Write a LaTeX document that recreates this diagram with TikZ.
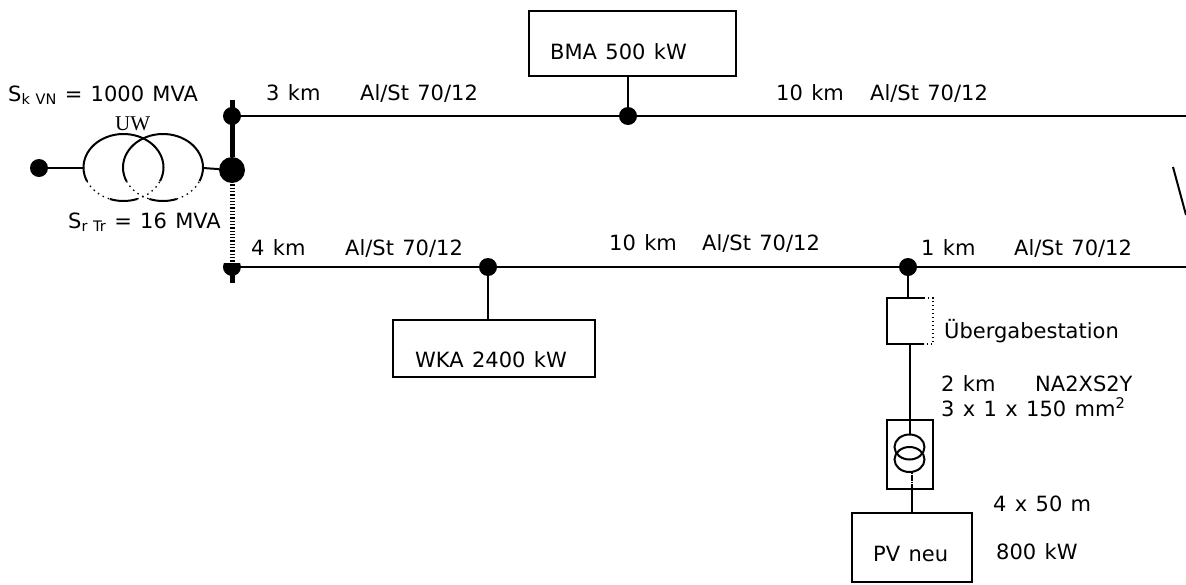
\documentclass[tikz,border=0pt]{standalone}
\usepackage{fontspec}
\setmainfont[WordSpace=1.25]{DejaVu Sans}
\newfontfamily\uwfont{Liberation Serif}
\newcommand{\lowtxt}[1]{\raisebox{-3pt}{\fontsize{14.5}{17}\selectfont #1}}
\tikzset{
    wire/.style={line width=2pt},
    bar/.style={line width=5pt},
    sparse/.style={line width=1.3pt, dash pattern=on 1.5pt off 4pt},
    dot/.style={circle, fill, inner sep=0pt, outer sep=0pt, minimum size=18pt},
    bigdot/.style={dot, minimum size=26pt},
    box/.style={draw, line width=2pt, inner sep=0pt, outer sep=0pt},
    lbl/.style={anchor=base west, inner sep=0pt, font=\fontsize{21}{24}\selectfont}
}
\begin{document}
\begin{tikzpicture}[x=1pt, y=1pt]
    \useasboundingbox (0, 0) rectangle (1186, -584);

    \node (dotFeed) [dot] at (39, -168) {};
    \node (dotTop) [dot] at (232, -116) {};
    \node (dotBar) [bigdot] at (232, -170) {};
    \node (dotBma) [dot] at (628, -116) {};
    \node (dotWka) [dot] at (488, -267) {};
    \node (dotPv) [dot] at (908, -267) {};
    \coordinate (barTop) at (232, -100);
    \coordinate (barGap) at (232, -181);
    \coordinate (busLow) at (232, -267);
    \coordinate (barEnd) at (232, -283);
    \coordinate (endTop) at (1186, -116);
    \coordinate (endLow) at (1186, -267);
    \coordinate (feedIn) at (84, -168);
    \coordinate (feedOut) at (203, -168);

    \node (boxBma) [box, minimum width=207pt, minimum height=65pt] at (632.5, -43.5) {};
    \node (boxWka) [box, minimum width=202pt, minimum height=57pt] at (494, -348.5) {};
    \node (boxPv) [box, minimum width=120pt, minimum height=69pt] at (912, -547.5) {};
    \node (boxTr) [box, minimum width=46pt, minimum height=69pt] at (910, -454.5) {};

    \draw [bar] (barTop) -- (dotBar);
    \draw [bar, dash pattern=on 1.3pt off 2pt] (barGap) -- (busLow);
    \draw [bar] (busLow) -- (barEnd);
    \fill (223.9, -263) arc [start angle=154, end angle=386, radius=9] -- cycle;

    \draw [wire] (dotFeed) -- (feedIn);
    \draw [wire] (feedOut) -- (dotBar);
    \draw [wire] (dotTop) -- (endTop);
    \draw [wire] (busLow) -- (endLow);
    \draw [wire] (dotBma) -- (dotBma |- boxBma.south);
    \draw [wire] (dotWka) -- (dotWka |- boxWka.north);

    \foreach \cx in {123.5, 163} {
        \begin{scope}[shift={(\cx, -167.5)}]
            \draw [wire] (204:40 and 33.5) arc [start angle=204, end angle=-24, x radius=40, y radius=33.5];
            \draw [wire] (250:40 and 33.5) arc [start angle=250, end angle=290, x radius=40, y radius=33.5];
            \draw [sparse] (204:40 and 33.5) arc [start angle=204, end angle=250, x radius=40, y radius=33.5];
            \draw [sparse] (290:40 and 33.5) arc [start angle=290, end angle=336, x radius=40, y radius=33.5];
        \end{scope}
    }

    \coordinate (ueTop) at (908, -298);
    \coordinate (ueLow) at (910, -344);
    \coordinate (trIn) at (910, -435);
    \coordinate (trGap) at (912, -472);
    \coordinate (trOut) at (912, -489);
    \draw [wire] (924, -298) -- (887, -298) -- (887, -344) -- (924, -344);
    \draw [sparse, dash pattern=on 1.3pt off 2.7pt] (924, -298) -- (933, -298) -- (933, -344) -- (924, -344);
    \draw [wire] (dotPv) -- (ueTop);
    \draw [wire] (ueLow) -- (trIn);
    \draw [wire] (909.5, -447) circle [x radius=15, y radius=12.5];
    \draw [wire] (909.5, -459.5) circle [x radius=15, y radius=12.5];
    \draw [sparse, dash pattern=on 1.5pt off 1pt on 6pt off 1pt] (trGap) -- (trOut);
    \draw [wire] (trOut) -- (boxPv.north -| trOut);
    \draw [wire] (1173, -167) -- (1186, -215);

    \node (txtBma) [lbl] at (550, -59) {BMA 500 kW};
    \node (txtWka) [lbl] at (415, -367) {WKA 2400 kW};
    \node (txtPv) [lbl] at (873, -561) {PV neu};
    \node (txtUw) [lbl, font=\uwfont\fontsize{21}{23}\selectfont] at (115, -130) {UW};
    \node (txtNet) [lbl] at (8, -101) {S\lowtxt{k VN} = 1000 MVA};
    \node (txtTr) [lbl] at (68, -228) {S\lowtxt{r Tr} = 16 MVA};
    \node (txtLenA) [lbl] at (266, -100) {3 km};
    \node (txtTypeA) [lbl] at (360, -100) {Al/St 70/12};
    \node (txtLenB) [lbl] at (776, -100) {10 km};
    \node (txtTypeB) [lbl] at (870, -100) {Al/St 70/12};
    \node (txtLenC) [lbl] at (251, -255) {4 km};
    \node (txtTypeC) [lbl] at (345, -255) {Al/St 70/12};
    \node (txtLenD) [lbl] at (609, -250) {10 km};
    \node (txtTypeD) [lbl] at (702, -250) {Al/St 70/12};
    \node (txtLenE) [lbl] at (921, -255) {1 km};
    \node (txtTypeE) [lbl] at (1014, -255) {Al/St 70/12};
    \node (txtUe) [lbl] at (944, -338) {Übergabestation};
    \node (txtLenF) [lbl] at (941, -391) {2 km};
    \node (txtTypeF) [lbl] at (1035, -391) {NA2XS2Y};
    \node (txtCable) [lbl] at (941, -416) {3 x 1 x 150 mm\textsuperscript{2}};
    \node (txtString) [lbl] at (993, -511) {4 x 50 m};
    \node (txtPower) [lbl] at (996, -559) {800 kW};
\end{tikzpicture}
\end{document}
